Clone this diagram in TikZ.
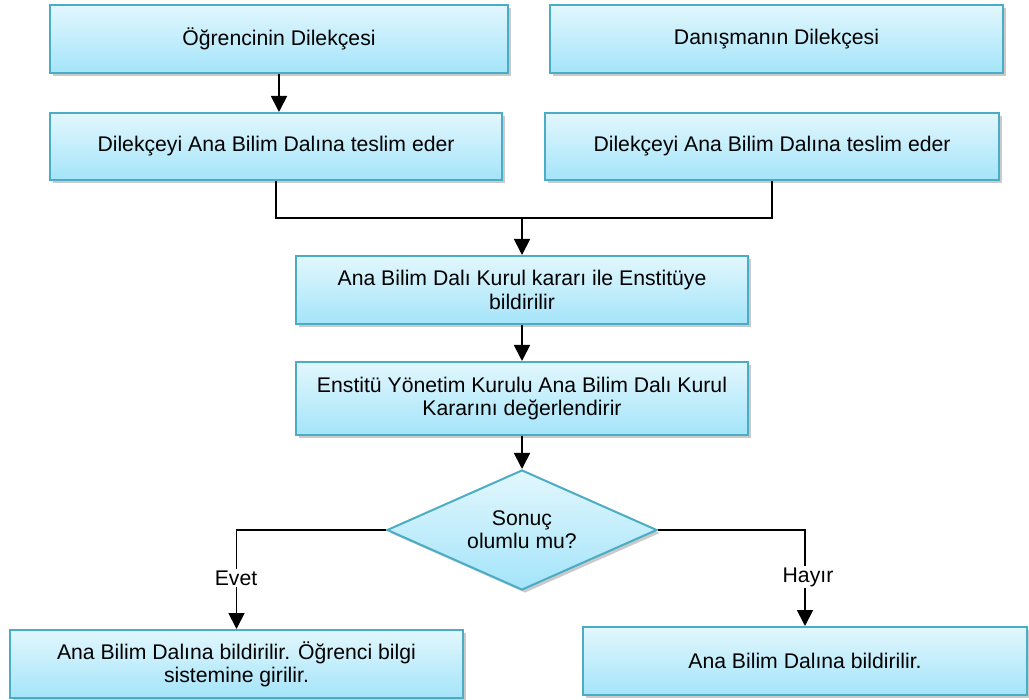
\documentclass[tikz,border=0pt]{standalone}
\usepackage{fontspec}
\setmainfont{Liberation Sans}
\usetikzlibrary{shapes.geometric,shadows,arrows.meta}
\definecolor{boxtop}{RGB}{226,247,253}
\definecolor{boxbot}{RGB}{164,228,250}
\definecolor{boxedge}{RGB}{75,172,198}
\tikzset{
  stepbox/.style={draw=boxedge, line width=1pt, top color=boxtop, bottom color=boxbot,
    align=center, inner sep=0pt, font=\fontsize{10.6}{11.6}\selectfont,
    drop shadow={shadow xshift=1.5pt, shadow yshift=-1.5pt, opacity=0.35, fill=black!60}},
  conn/.style={line width=0.9pt, draw=black},
  arr/.style={conn, -{Triangle[width=8pt,length=8pt]}},
  lbl/.style={fill=white, inner sep=1pt, font=\fontsize{10.6}{11.6}\selectfont}
}
\begin{document}
\begin{tikzpicture}[x=0.5pt,y=-0.5pt]
\useasboundingbox (0,0) rectangle (1029,700);
\node[stepbox, minimum width=229pt, minimum height=34pt] (b1) at (279,39) {Öğrencinin Dilekçesi};
\node[stepbox, minimum width=226.5pt, minimum height=34pt] (b2) at (776.5,39) {Danışmanın Dilekçesi};
\node[stepbox, minimum width=226pt, minimum height=33.5pt] (b3) at (276,146.5) {Dilekçeyi Ana Bilim Dalına teslim eder};
\node[stepbox, minimum width=227pt, minimum height=33.5pt] (b4) at (772,146.5) {Dilekçeyi Ana Bilim Dalına teslim eder};
\node[stepbox, minimum width=226pt, minimum height=34pt] (b5) at (522,290) {Ana Bilim Dalı Kurul kararı ile Enstitüye\\bildirilir};
\node[stepbox, minimum width=226pt, minimum height=36.5pt] (b6) at (522,398.5) {Enstitü Yönetim Kurulu Ana Bilim Dalı Kurul\\Kararını değerlendirir};
\node[stepbox, shape=diamond, minimum width=135pt, minimum height=60pt, shape aspect=2.25] (d) at (522,530) {Sonuç\\olumlu mu?};
\node[stepbox, minimum width=226.5pt, minimum height=34pt] (b7) at (236.5,664) {Ana Bilim Dalına bildirilir. Öğrenci bilgi\\sistemine girilir.};
\node[stepbox, minimum width=222pt, minimum height=34pt] (b8) at (805,661) {Ana Bilim Dalına bildirilir.};
\coordinate (m) at (522,218);
\draw[arr] (b1.south) -- (b1.south |- b3.north);
\draw[conn] (b3.south) |- (m);
\draw[conn] (b4.south) |- (m);
\draw[arr] (m) -- (b5.north);
\draw[arr] (b5.south) -- (b6.north);
\draw[arr] (b6.south) -- (d.north);
\draw[arr] (d.west) -| (b7.north);
\draw[arr] (d.east) -| (b8.north);
\node[lbl] (evet) at (236,578) {Evet};
\node[lbl] (hayir) at (808,577) {Hayır};
\end{tikzpicture}
\end{document}
